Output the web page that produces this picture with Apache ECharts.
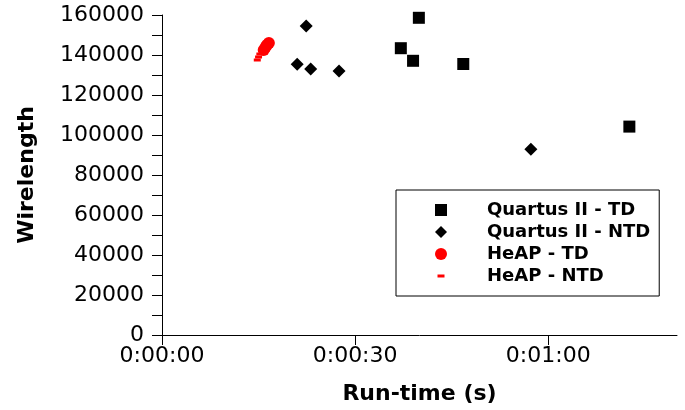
<!DOCTYPE html>
<html>
<head>
<meta charset="utf-8">
<script src="https://cdn.jsdelivr.net/npm/echarts@6/dist/echarts.min.js"></script>
<style>
html,body{margin:0;padding:0;background:#fff;}
#chart{width:685px;height:410px;}
</style>
</head>
<body>
<div id="chart"></div>
<script>
// Run-time in seconds, wirelength values
var seriesNames = ['Quartus II - TD', 'Quartus II - NTD', 'HeAP - TD', 'HeAP - NTD'];
var quartusTD_time = [37.1, 39.0, 39.9, 46.8, 72.6];
var quartusTD_wl   = [143400, 137100, 158600, 135500, 104200];
var quartusNTD_time = [21.0, 22.4, 23.1, 27.5, 57.3];
var quartusNTD_wl   = [135400, 154500, 133000, 132000, 92900];
var heapTD_time = [16.6, 16.3, 16.1, 15.8];
var heapTD_wl   = [146000, 145000, 144000, 142500];
var heapNTD_time = [14.8, 15.0, 15.2];
var heapNTD_wl   = [137500, 139000, 140500];
var xTicks = [0, 30, 60];
var yTicks = [0, 20000, 40000, 60000, 80000, 100000, 120000, 140000, 160000];

function pairs(xs, ys) { return xs.map(function (x, i) { return [x, ys[i]]; }); }
function fmtTime(v) {
  var h = Math.floor(v / 3600), m = Math.floor((v % 3600) / 60), s = Math.round(v % 60);
  return h + ':' + (m < 10 ? '0' : '') + m + ':' + (s < 10 ? '0' : '') + s;
}
var FONT = 'DejaVu Sans';
var squarePath = 'path://M0,0L12,0L12,12L0,12Z';
var diamondPath = 'path://M6,0L12,6L6,12L0,6Z';
var dashPath = 'path://M0,0M12,12M2.5,4.5L9.5,4.5L9.5,7.5L2.5,7.5Z';
// legend icons: shapes centred in an 82x12 box
var legSquare = 'path://M0,0M82,12M35,0L47,0L47,12L35,12Z';
var legDiamond = 'path://M0,0M82,12M41,0L47,6L41,12L35,6Z';
var legCircle = 'path://M0,0M82,12M35,6A6,6,0,1,1,47,6A6,6,0,1,1,35,6Z';
var legDash = 'path://M0,0M82,12M37.5,4.5L44.5,4.5L44.5,7.5L37.5,7.5Z';

var chart = echarts.init(document.getElementById('chart'));
chart.setOption({
  animation: false,
  backgroundColor: '#fff',
  grid: { left: 162, right: 8, top: 15, bottom: 75, containLabel: false },
  xAxis: {
    type: 'value', min: xTicks[0], max: 80, interval: xTicks[1] - xTicks[0],
    name: 'Run-time (s)', nameLocation: 'middle', nameGap: 48,
    nameTextStyle: { fontFamily: FONT, fontSize: 22, fontWeight: 'bold', color: '#000' },
    axisLine: { show: true, onZero: false, lineStyle: { color: '#000', width: 1 } },
    axisTick: { show: true, length: 10, lineStyle: { color: '#000' } },
    axisLabel: { fontFamily: FONT, fontSize: 22, color: '#000', margin: 10, formatter: fmtTime,
      showMaxLabel: false },
    splitLine: { show: false }
  },
  yAxis: {
    type: 'value', min: yTicks[0], max: yTicks[yTicks.length - 1], interval: yTicks[1] - yTicks[0],
    name: 'Wirelength', nameLocation: 'middle', nameGap: 124, nameRotate: 90,
    nameTextStyle: { fontFamily: FONT, fontSize: 22, fontWeight: 'bold', color: '#000' },
    axisLine: { show: true, lineStyle: { color: '#000', width: 1 } },
    axisTick: { show: true, length: 10, lineStyle: { color: '#000' } },
    minorTick: { show: true, splitNumber: 2, length: 10, lineStyle: { color: '#000' } },
    axisLabel: { fontFamily: FONT, fontSize: 22, color: '#000', margin: 18,
      formatter: function (v) { return String(v); } },
    splitLine: { show: false }
  },
  legend: {
    orient: 'vertical', left: 396, top: 190,
    padding: [11, 9, 11, 4],
    itemWidth: 82, itemHeight: 12, itemGap: 4,
    symbolKeepAspect: true,
    selectedMode: false,
    borderColor: '#000', borderWidth: 1,
    textStyle: { fontFamily: FONT, fontSize: 18, fontWeight: 'bold', color: '#000', lineHeight: 18 },
    data: [
      { name: seriesNames[0], icon: legSquare },
      { name: seriesNames[1], icon: legDiamond },
      { name: seriesNames[2], icon: legCircle },
      { name: seriesNames[3], icon: legDash }
    ]
  },
  series: [
    { name: seriesNames[0], type: 'scatter', symbol: squarePath, symbolSize: 12,
      itemStyle: { color: '#000', opacity: 1 }, data: pairs(quartusTD_time, quartusTD_wl) },
    { name: seriesNames[1], type: 'scatter', symbol: diamondPath, symbolSize: 13,
      itemStyle: { color: '#000', opacity: 1 }, data: pairs(quartusNTD_time, quartusNTD_wl) },
    { name: seriesNames[2], type: 'scatter', symbol: 'circle', symbolSize: 12,
      itemStyle: { color: '#ff0000', opacity: 1 }, data: pairs(heapTD_time, heapTD_wl) },
    { name: seriesNames[3], type: 'scatter', symbol: dashPath, symbolSize: 12,
      itemStyle: { color: '#ff0000', opacity: 1 }, data: pairs(heapNTD_time, heapNTD_wl) }
  ]
});
</script>
</body>
</html>
